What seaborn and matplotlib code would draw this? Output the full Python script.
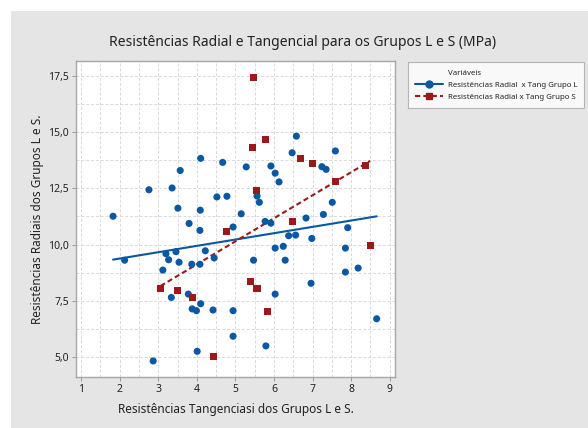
"""Scatter with fitted lines: radial vs tangential strength, groups L and S."""
import matplotlib
matplotlib.use('Agg')
import matplotlib.pyplot as plt
from matplotlib.lines import Line2D
from matplotlib.patches import Rectangle
from matplotlib.ticker import MultipleLocator, FuncFormatter
import seaborn as sns

# Grupo L (circles)
tang_L = [1.83, 2.13, 2.76, 2.87, 3.12, 3.20, 3.27, 3.34, 3.36, 3.46, 3.51, 3.54, 3.57,
          3.78, 3.80, 3.87, 3.88, 3.99, 4.01, 4.08, 4.09, 4.08, 4.10, 4.10, 4.22, 4.42,
          4.45, 4.52, 4.67, 4.78, 4.94, 4.94, 4.94, 5.15, 5.28, 5.47, 5.56, 5.62, 5.77,
          5.79, 5.92, 5.92, 6.03, 6.03, 6.03, 6.13, 6.24, 6.29, 6.38, 6.47, 6.56, 6.58,
          6.83, 6.96, 6.98, 7.24, 7.28, 7.35, 7.51, 7.59, 7.85, 7.85, 7.91, 8.18, 8.66]
rad_L = [11.26, 9.30, 12.44, 4.81, 8.86, 9.59, 9.32, 7.64, 12.52, 9.68, 11.62, 9.21, 13.30,
         7.79, 10.94, 9.12, 7.13, 7.05, 5.24, 9.12, 11.53, 10.63, 7.36, 13.84, 9.72, 7.08,
         9.40, 12.12, 13.66, 12.15, 10.78, 7.05, 5.91, 11.37, 13.46, 9.30, 12.16, 11.88, 11.03,
         5.48, 10.95, 13.50, 13.18, 9.84, 7.79, 12.79, 9.92, 9.30, 10.39, 14.09, 10.42, 14.83,
         11.18, 8.27, 10.27, 13.47, 11.34, 13.35, 11.88, 14.17, 9.84, 8.77, 10.75, 8.95, 6.69]

# Grupo S (squares)
tang_S = [3.06, 3.49, 3.89, 4.44, 4.76, 5.38, 5.47, 5.45, 5.55, 5.56, 5.77, 5.82,
          6.49, 6.68, 7.00, 7.60, 8.38, 8.49]
rad_S = [8.03, 7.95, 7.63, 5.00, 10.59, 8.34, 17.43, 14.32, 12.40, 8.03, 14.67, 7.01,
         11.02, 13.85, 13.61, 12.82, 13.54, 9.96]

label_L = 'Resistências Radial  x Tang Grupo L'
label_S = 'Resistências Radial x Tang Grupo S'
blue = '#0a57a4'
red = '#9a1a1a'

sns.set_style('white')
plt.rcParams['font.family'] = ['Noto Sans', 'DejaVu Sans']

fig = plt.figure(figsize=(5.88, 4.28), dpi=100)
fig.patch.set_facecolor('white')
fig.patches.append(Rectangle((11 / 588, 0), 1, 1 - 11 / 428, transform=fig.transFigure,
                             facecolor='#e5e5e5', edgecolor='none', zorder=-10))

ax = fig.add_axes([76 / 588, 1 - 377 / 428, 319 / 588, 316 / 428])
ax.set_facecolor('white')

sns.regplot(x=tang_L, y=rad_L, scatter=False, ci=None, truncate=True, ax=ax,
            line_kws=dict(color=blue, lw=1.5, zorder=3))
sns.regplot(x=tang_S, y=rad_S, scatter=False, ci=None, truncate=True, ax=ax,
            line_kws=dict(color=red, lw=1.5, ls=(0, (2.5, 1.5)), zorder=3))
sns.scatterplot(x=tang_L, y=rad_L, ax=ax, color=blue, marker='o', s=26,
                edgecolor='none', zorder=4)
sns.scatterplot(x=tang_S, y=rad_S, ax=ax, color=red, marker='s', s=26,
                edgecolor='none', zorder=4)

ax.set_xlim(0.87, 9.135)
ax.set_ylim(4.094, 18.18)
ax.xaxis.set_major_locator(MultipleLocator(1))
ax.xaxis.set_minor_locator(MultipleLocator(0.5))
ax.yaxis.set_major_locator(MultipleLocator(2.5))
ax.yaxis.set_minor_locator(MultipleLocator(1.25))
ax.yaxis.set_major_formatter(FuncFormatter(lambda v, p: f'{v:.1f}'.replace('.', ',')))
ax.grid(True, which='both', color='#d9d9d9', ls=(0, (3, 2)), lw=0.7)
ax.tick_params(which='major', direction='out', length=3, width=0.7, color='#999999',
               labelsize=7.5, pad=2, labelcolor='#222222')
ax.tick_params(which='minor', length=0)
ax.tick_params(axis='x', bottom=True)
ax.tick_params(axis='y', left=True)
for sp in ax.spines.values():
    sp.set_color('#a6a6a6')
    sp.set_linewidth(1.0)

ax.set_xlabel('Resistências Tangenciasi dos Grupos L e S.', fontsize=8.5, color='#222222',
              labelpad=6)
ax.set_ylabel('Resistências Radiais dos Grupos L e S.', fontsize=8.5, color='#222222',
              labelpad=3)
fig.text(303 / 588, 1 - 42 / 428, 'Resistências Radial e Tangencial para os Grupos L e S (MPa)',
         ha='center', va='center', fontsize=10, color='#222222')

handles = [Line2D([], [], ls='none'),
           Line2D([], [], color=blue, lw=1.5, marker='o', ms=5),
           Line2D([], [], color=red, lw=1.5, ls=(0, (2.5, 1.5)), marker='s', ms=5)]
leg = ax.legend(handles, ['Variáveis', label_L, label_S], loc='upper left',
                bbox_to_anchor=(408 / 588, 1 - 62 / 428), bbox_transform=fig.transFigure,
                fontsize=5.7, frameon=True, fancybox=False, edgecolor='#a6a6a6',
                borderpad=0.9, handlelength=3.5, handletextpad=0.6, labelspacing=0.6,
                borderaxespad=0)
leg.get_frame().set_linewidth(0.8)

plt.savefig('out.png', dpi=100)
plt.close()
